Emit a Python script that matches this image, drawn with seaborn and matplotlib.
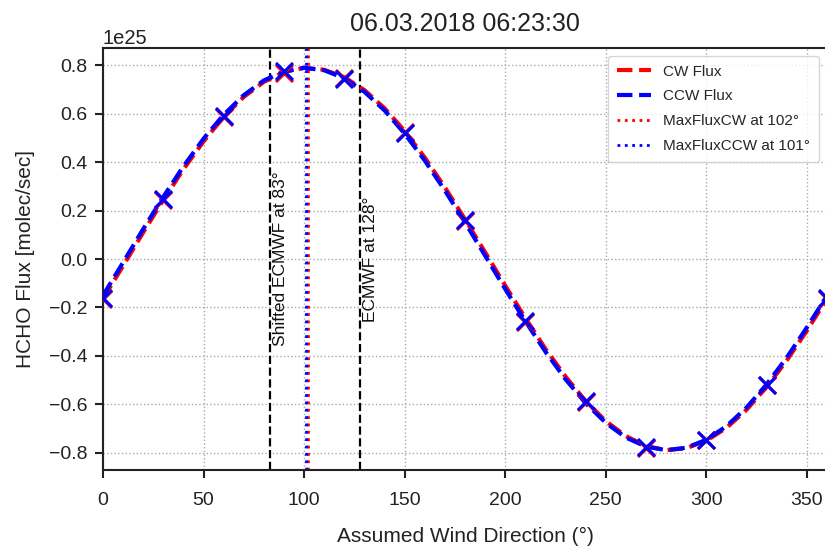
import numpy as np
import pandas as pd
import matplotlib
matplotlib.use("Agg")
import matplotlib.pyplot as plt
import matplotlib.ticker as mticker
import seaborn as sns

# Assumed wind direction grid (degrees) for the fitted flux curves
direction = [0, 10, 20, 30, 40, 50, 60, 70, 80, 90, 100, 110, 120, 130, 140, 150, 160, 170,
             180, 190, 200, 210, 220, 230, 240, 250, 260, 270, 280, 290, 300, 310, 320, 330,
             340, 350, 360]

# Fitted flux, clockwise rotation (units of 1e25 molec/sec)
cw_flux = [-0.164, -0.028, 0.110, 0.244, 0.371, 0.486, 0.587, 0.670, 0.732, 0.773, 0.790,
           0.782, 0.751, 0.698, 0.623, 0.529, 0.419, 0.296, 0.164, 0.028, -0.110, -0.244,
           -0.371, -0.486, -0.587, -0.670, -0.732, -0.773, -0.790, -0.782, -0.751, -0.698,
           -0.623, -0.529, -0.419, -0.296, -0.164]

# Fitted flux, counter-clockwise rotation (units of 1e25 molec/sec)
ccw_flux = [-0.151, -0.014, 0.124, 0.257, 0.383, 0.497, 0.596, 0.677, 0.738, 0.775, 0.790,
            0.780, 0.747, 0.691, 0.614, 0.518, 0.407, 0.283, 0.151, 0.014, -0.124, -0.257,
            -0.383, -0.497, -0.596, -0.677, -0.738, -0.775, -0.790, -0.780, -0.747, -0.691,
            -0.614, -0.518, -0.407, -0.283, -0.151]

# Computed fluxes at the sampled directions (units of 1e25 molec/sec)
sample_dir = [0, 30, 60, 90, 120, 150, 180, 210, 240, 270, 300, 330, 360]
cw_samples = [-0.165, 0.245, 0.585, 0.770, 0.750, 0.525, 0.155, -0.260, -0.590, -0.780,
              -0.750, -0.520, -0.165]
ccw_samples = [-0.160, 0.250, 0.590, 0.775, 0.745, 0.520, 0.160, -0.255, -0.585, -0.775,
               -0.750, -0.520, -0.160]

max_cw_dir = 102
max_ccw_dir = 101
ecmwf_dir = 128
shifted_ecmwf_dir = 83
title = "06.03.2018 06:23:30"
scale = 1e25

sns.set_theme(style="ticks")
plt.rcParams["font.family"] = ["Liberation Sans", "DejaVu Sans"]

curves = pd.DataFrame({
    "dir": direction,
    "cw": np.array(cw_flux) * scale,
    "ccw": np.array(ccw_flux) * scale,
})
samples = pd.DataFrame({
    "dir": sample_dir,
    "cw": np.array(cw_samples) * scale,
    "ccw": np.array(ccw_samples) * scale,
})

fig = plt.figure(figsize=(8.25, 5.46), dpi=100)
ax = fig.add_axes([103 / 825, 76 / 546, 724 / 825, 422 / 546])

sns.lineplot(data=curves, x="dir", y="cw", ax=ax, color="red", linestyle="--",
             linewidth=3, label="CW Flux", zorder=3)
sns.lineplot(data=curves, x="dir", y="ccw", ax=ax, color="blue", linestyle="--",
             linewidth=3, label="CCW Flux", zorder=4)
sns.scatterplot(data=samples, x="dir", y="cw", ax=ax, color="red", marker="x",
                s=150, linewidth=2.2, zorder=5, legend=False)
sns.scatterplot(data=samples, x="dir", y="ccw", ax=ax, color="blue", marker="x",
                s=150, linewidth=2.2, zorder=6, legend=False)

ax.axvline(max_cw_dir, color="red", linestyle=":", linewidth=2,
           label=f"MaxFluxCW at {max_cw_dir}°", zorder=2)
ax.axvline(max_ccw_dir, color="blue", linestyle=":", linewidth=2,
           label=f"MaxFluxCCW at {max_ccw_dir}°", zorder=2)

ax.axvline(shifted_ecmwf_dir, color="black", linestyle="--", linewidth=1.6, zorder=2)
ax.axvline(ecmwf_dir, color="black", linestyle="--", linewidth=1.6, zorder=2)
ax.text(shifted_ecmwf_dir + 1.5, 0, f"Shifted ECMWF at {shifted_ecmwf_dir}°", rotation=90,
        ha="left", va="center", fontsize=12.5, color="#111111")
ax.text(ecmwf_dir + 1.5, 0, f"ECMWF at {ecmwf_dir}°", rotation=90,
        ha="left", va="center", fontsize=12.5, color="#111111")

ax.set_xlim(0, 360)
ax.set_xticks([0, 50, 100, 150, 200, 250, 300, 350])
ax.set_ylim(-0.872 * scale, 0.872 * scale)
ax.set_yticks(np.array([-0.8, -0.6, -0.4, -0.2, 0.0, 0.2, 0.4, 0.6, 0.8]) * scale)
fmt = mticker.ScalarFormatter(useMathText=False)
fmt.set_powerlimits((25, 25))
ax.yaxis.set_major_formatter(fmt)
ax.yaxis.get_offset_text().set_fontsize(14.5)
ax.yaxis.get_offset_text().set_color("#222222")

ax.grid(True, linestyle=":", color="#aaaaaa", linewidth=1.0)
ax.set_axisbelow(True)
for side in ["left", "bottom", "top", "right"]:
    ax.spines[side].set_visible(True)
    ax.spines[side].set_color("#222222")
    ax.spines[side].set_linewidth(1.5)
ax.tick_params(axis="both", labelsize=14, length=6, width=1.5, pad=5, color="#222222",
               labelcolor="#222222")
ax.tick_params(axis="x", pad=10)

ax.set_xlabel("Assumed Wind Direction (°)", fontsize=15, color="#222222", labelpad=13)
ax.set_ylabel("HCHO Flux [molec/sec]", fontsize=15, color="#222222", labelpad=10)
ax.set_title(title, fontsize=18, color="#222222", pad=12)

ax.legend(loc="upper right", fontsize=11, frameon=True, framealpha=0.8,
          edgecolor="#cccccc", handlelength=2.2, borderpad=0.6, labelspacing=0.7)

fig.savefig("out.png", dpi=100)
